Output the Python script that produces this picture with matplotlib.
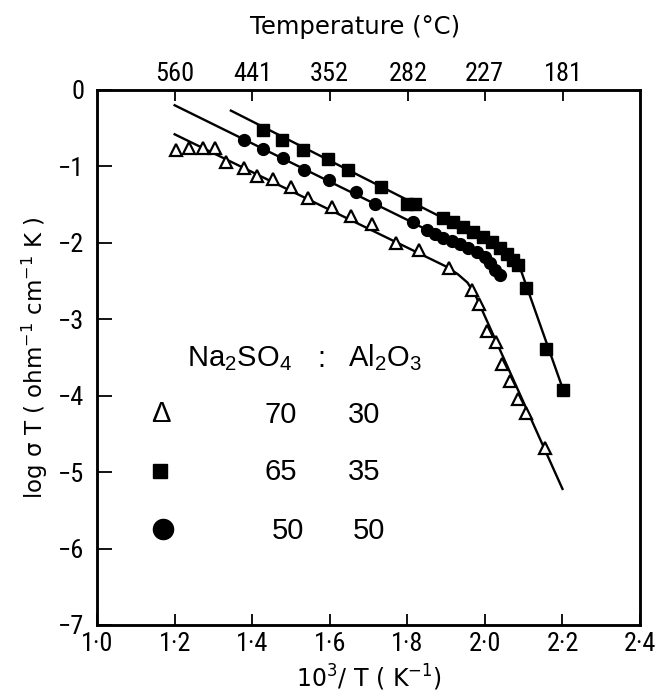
import matplotlib
matplotlib.use("Agg")
import matplotlib.pyplot as plt
from matplotlib import font_manager
import numpy as np

# ---------------- data ----------------
tri_x = [1.204, 1.238, 1.272, 1.304, 1.332, 1.380, 1.413, 1.453, 1.500, 1.545,
         1.605, 1.654, 1.708, 1.771, 1.831, 1.908, 1.966, 1.985, 2.006, 2.028,
         2.045, 2.064, 2.086, 2.106, 2.155]
tri_y = [-0.785, -0.755, -0.764, -0.764, -0.938, -1.025, -1.126, -1.165, -1.265, -1.418,
         -1.527, -1.645, -1.754, -1.998, -2.094, -2.334, -2.618, -2.801, -3.150, -3.294,
         -3.586, -3.804, -4.048, -4.232, -4.690]

sq_x = [1.427, 1.476, 1.530, 1.595, 1.646, 1.732, 1.798, 1.820, 1.893, 1.918,
        1.944, 1.970, 1.996, 2.017, 2.039, 2.056, 2.073, 2.086, 2.106, 2.157, 2.202]
sq_y = [-0.524, -0.654, -0.785, -0.907, -1.047, -1.274, -1.496, -1.496, -1.671, -1.732,
        -1.789, -1.854, -1.920, -1.985, -2.072, -2.151, -2.225, -2.290, -2.587, -3.390, -3.927]

ci_x = [1.380, 1.427, 1.480, 1.534, 1.599, 1.668, 1.717, 1.814, 1.850, 1.871,
        1.893, 1.914, 1.936, 1.957, 1.979, 2.000, 2.013, 2.026, 2.039]
ci_y = [-0.654, -0.777, -0.894, -1.047, -1.178, -1.331, -1.492, -1.732, -1.832, -1.889,
        -1.933, -1.976, -2.020, -2.064, -2.116, -2.182, -2.269, -2.356, -2.420]

# fitted lines drawn in the figure
tri_line_x = [1.20, 1.90, 1.93, 1.955, 1.975, 2.20]
tri_line_y = [-0.58, -2.31, -2.41, -2.52, -2.68, -5.22]
sq_line_x = [1.345, 1.89, 1.95, 2.00, 2.05, 2.09, 2.205]
sq_line_y = [-0.27, -1.67, -1.80, -1.93, -2.12, -2.32, -3.97]
ci_line_x = [1.20, 1.80, 1.85, 1.90, 1.96, 2.00, 2.04]
ci_line_y = [-0.20, -1.70, -1.83, -1.95, -2.07, -2.18, -2.43]

x_ticks = [1.0, 1.2, 1.4, 1.6, 1.8, 2.0, 2.2, 2.4]
x_tick_labels = ["1·0", "1·2", "1·4", "1·6", "1·8", "2·0", "2·2", "2·4"]
y_ticks = [0, -1, -2, -3, -4, -5, -6, -7]
y_tick_labels = ["0", "−1", "−2", "−3", "−4", "−5", "−6", "−7"]
top_temps_C = [560, 441, 352, 282, 227, 181]

legend_rows = [("70", "30"), ("65", "35"), ("50", "50")]


def pick_font(candidates):
    for c in candidates:
        try:
            font_manager.findfont(c, fallback_to_default=False)
            return c
        except Exception:
            continue
    return "DejaVu Sans"


narrow = pick_font(["Liberation Sans Narrow", "Roboto Condensed", "DejaVu Sans"])
narrow_size = 19 if narrow != "DejaVu Sans" else 15

# ---------------- figure ----------------
fig = plt.figure(figsize=(6.56, 6.98), dpi=100)
ax = fig.add_axes([0.148, 0.1046, 0.8277, 0.7665])

lw = 1.7
ax.plot(tri_line_x, tri_line_y, color="black", lw=lw, zorder=2)
ax.plot(sq_line_x, sq_line_y, color="black", lw=lw, zorder=2)
ax.plot(ci_line_x, ci_line_y, color="black", lw=lw, zorder=2)

ax.plot(tri_x, tri_y, ls="none", marker="^", ms=9, mfc="white", mec="black",
        mew=1.6, zorder=3)
ax.plot(sq_x, sq_y, ls="none", marker="s", ms=8.5, mfc="black", mec="black", zorder=3)
ax.plot(ci_x, ci_y, ls="none", marker="o", ms=8.5, mfc="black", mec="black", zorder=3)

ax.set_xlim(1.0, 2.4)
ax.set_ylim(-7, 0)

tick_font = dict(family=narrow, size=narrow_size)
ax.set_xticks(x_ticks)
ax.set_xticklabels(x_tick_labels, fontdict=tick_font)
ax.set_yticks(y_ticks)
ax.set_yticklabels(y_tick_labels, fontdict=tick_font)
ax.tick_params(axis="x", direction="in", length=8, width=1.3, pad=5)
ax.tick_params(axis="y", direction="in", length=11, width=1.3, pad=9)
for s in ax.spines.values():
    s.set_linewidth(1.8)

ax.set_xlabel(r"$\mathregular{10^3/\ T\ (\ K^{-1})}$", fontsize=17,
              family="DejaVu Sans", labelpad=5)
ax.set_ylabel(r"$\mathregular{log\ \sigma\ T\ (\ ohm^{-1}\ cm^{-1}\ K\ )}$",
              fontsize=16.5, family="DejaVu Sans", labelpad=6)

# top axis in degrees Celsius
top = ax.twiny()
top.set_xlim(ax.get_xlim())
top_pos = [1000.0 / (t + 273.15) for t in top_temps_C]
top.set_xticks(top_pos)
top.set_xticklabels([str(t) for t in top_temps_C], fontdict=tick_font)
top.tick_params(axis="x", direction="in", length=8, width=1.3, pad=3)
for s in top.spines.values():
    s.set_linewidth(1.8)
fig.text(0.541, 0.962, "Temperature (°C)", ha="center", va="center",
         fontsize=17.5, family="DejaVu Sans")

# composition legend
plt.rcParams["mathtext.default"] = "regular"
lfont = dict(family="Liberation Sans", size=21)
ax.text(0.165, 0.483, r"$Na_2SO_4$", transform=ax.transAxes, ha="left",
        va="baseline", **lfont)
ax.text(0.405, 0.483, ":", transform=ax.transAxes, ha="left", va="baseline", **lfont)
ax.text(0.462, 0.483, r"$Al_2O_3$", transform=ax.transAxes, ha="left",
        va="baseline", **lfont)

row_y = [0.378, 0.271, 0.160]
ax.text(0.118, row_y[0] + 0.016, "Δ", transform=ax.transAxes, ha="center",
        va="center", family="Liberation Sans", size=21)
ax.plot([0.116], [row_y[1] + 0.017], transform=ax.transAxes, marker="s", ms=10,
        color="black", clip_on=False)
ax.plot([0.122], [row_y[2] + 0.019], transform=ax.transAxes, marker="o", ms=14.5,
        color="black", clip_on=False)
col1 = [0.309, 0.309, 0.322]
col2 = [0.462, 0.462, 0.470]
for (a, b), y, c1, c2 in zip(legend_rows, row_y, col1, col2):
    ax.text(c1, y, a, transform=ax.transAxes, ha="left", va="baseline", **lfont)
    ax.text(c2, y, b, transform=ax.transAxes, ha="left", va="baseline", **lfont)

fig.savefig("out.png", dpi=100)
